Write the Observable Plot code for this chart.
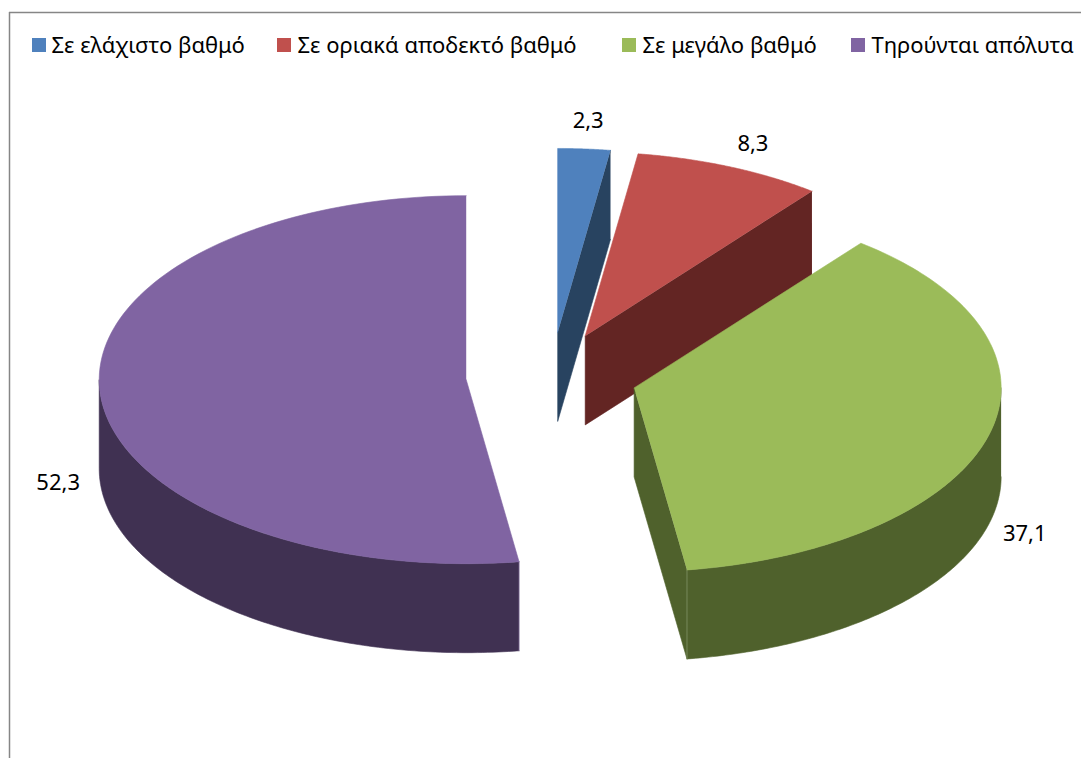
<!DOCTYPE html>
<html lang="el">
<head>
<meta charset="utf-8">
<title>Πίτα τρισδιάστατη</title>
<style>
  html, body { margin: 0; padding: 0; background: #fff; }
</style>
<script src="https://cdn.jsdelivr.net/npm/d3@7"></script>
<script src="https://cdn.jsdelivr.net/npm/@observablehq/plot@0.6"></script>
</head>
<body>
<script>
// Survey shares, one slice per answer
const categories = ["Σε ελάχιστο βαθμό", "Σε οριακά αποδεκτό βαθμό", "Σε μεγάλο βαθμό", "Τηρούνται απόλυτα"];
const values = [2.3, 8.3, 37.1, 52.3];

// Slice colours: top face, side wall, and the light seam on a wall corner
const topColors = ["#4F81BD", "#C0504D", "#9BBB59", "#8064A2"];
const wallColors = ["#284360", "#632523", "#4F612C", "#403152"];
const seamColors = ["#6f8fb5", "#a06a68", "#84946a", "#7d6a96"];

// Legend layout along the top of the frame
const legendSwatchX = [32, 277, 622, 851];
const legendTextX = [51, 297, 642, 871];

// Value label offsets from the rim point at each slice's middle angle
const labelNudgeX = [4, 23, 36, -42];
const labelNudgeY = [-28, -23, 10, 1];

// Tilted pie geometry
const width = 1081, height = 758;
const cx = 551, cy = 376, rx = 367, ry = 184, depth = 89;
const explodeX = 0.233, explodeY = 0.24;
const frameLeft = 9, frameTop = 12;

const total = d3.sum(values);
const slices = [];
let start = 0;
values.forEach((v, i) => {
  const end = start + (v / total) * 2 * Math.PI;
  const mid = (start + end) / 2;
  slices.push({
    i, start, end, mid,
    ox: cx + explodeX * rx * Math.sin(mid),
    oy: cy - explodeY * ry * Math.cos(mid)
  });
  start = end;
});

// Point on the rim of a slice, dz pixels below its top face
const rim = (s, a, dz = 0) => ({
  x: s.ox + rx * Math.sin(a),
  y: s.oy - ry * Math.cos(a) + dz
});
const arc = (s, a0, a1, dz = 0) =>
  d3.range(0, 121).map((k) => rim(s, a0 + ((a1 - a0) * k) / 120, dz));

const topFace = (s) => [{x: s.ox, y: s.oy}, ...arc(s, s.start, s.end)];

// Angular span of the rim that faces the viewer
const frontSpan = (s) => [Math.max(s.start, Math.PI / 2), Math.min(s.end, (3 * Math.PI) / 2)];

// Side walls that face the viewer: the cut at the end angle and the front of the rim
function walls(s) {
  const out = [];
  if (Math.sin(s.end) > 1e-6) {
    const p = rim(s, s.end);
    out.push([p, {x: s.ox, y: s.oy}, {x: s.ox, y: s.oy + depth}, {x: p.x, y: p.y + depth}]);
  }
  const [a0, a1] = frontSpan(s);
  if (a1 > a0) out.push([...arc(s, a0, a1), ...arc(s, a1, a0, depth)]);
  return out;
}

// Vertical corners where the front rim meets a cut face
function seams(s) {
  const [a0, a1] = frontSpan(s);
  if (a1 <= a0) return [];
  const out = [];
  if (a0 > Math.PI / 2) out.push(a0);
  if (a1 < (3 * Math.PI) / 2) out.push(a1);
  return out.map((a) => [rim(s, a), rim(s, a, depth)]);
}

// Back slices first, so the green one overlaps the red wall
const drawOrder = [0, 1, 3, 2];
const pieMarks = drawOrder.flatMap((i) => {
  const s = slices[i];
  return [
    ...walls(s).map((w) => Plot.line(w, {x: "x", y: "y", fill: wallColors[i], stroke: wallColors[i], strokeWidth: 0.6})),
    ...seams(s).map((e) => Plot.line(e, {x: "x", y: "y", stroke: seamColors[i], strokeWidth: 0.8})),
    Plot.line(topFace(s), {x: "x", y: "y", fill: topColors[i], stroke: topColors[i], strokeWidth: 0.6})
  ];
});

const labels = slices.map((s) => {
  const front = Math.cos(s.mid) < 0;
  const p = rim(s, s.mid, front ? depth : 0);
  return {
    x: p.x + labelNudgeX[s.i],
    y: p.y + labelNudgeY[s.i],
    text: values[s.i].toFixed(1).replace(".", ",")
  };
});

const legendRows = categories.map((name, i) => ({
  name, color: topColors[i], sx: legendSwatchX[i], tx: legendTextX[i]
}));

const chart = Plot.plot({
  width, height,
  margin: 0,
  x: {type: "identity", axis: null},
  y: {type: "identity", axis: null},
  style: {background: "#fff", fontFamily: "'Noto Sans', sans-serif", overflow: "hidden"},
  marks: [
    Plot.ruleX([frameLeft], {stroke: "#868686", strokeWidth: 1.5, y1: frameTop, y2: height}),
    Plot.ruleY([frameTop], {stroke: "#868686", strokeWidth: 1.5, x1: frameLeft, x2: width}),
    ...pieMarks,
    Plot.rect(legendRows, {
      x1: "sx", x2: (d) => d.sx + 14,
      y1: 38, y2: 52,
      fill: "color"
    }),
    Plot.text(legendRows, {
      x: "tx", y: 45, text: "name",
      textAnchor: "start", fontSize: 22, fill: "#000"
    }),
    Plot.text(labels, {
      x: "x", y: "y", text: "text",
      fontSize: 22, fill: "#000"
    })
  ]
});
document.body.append(chart);
</script>
</body>
</html>
